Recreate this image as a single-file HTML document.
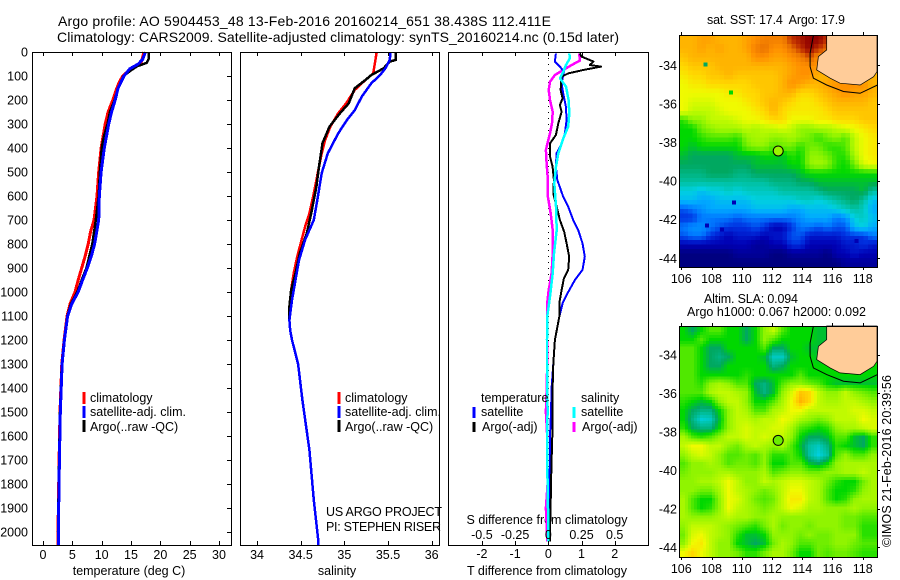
<!DOCTYPE html>
<html>
<head>
<meta charset="utf-8">
<title>Argo profile</title>
<style>
html,body{margin:0;padding:0;background:#fff;}
svg{display:block;font-family:"Liberation Sans",sans-serif;font-size:12.5px;fill:#000;}
.c{text-anchor:middle;}
.e{text-anchor:end;}
</style>
</head>
<body>
<svg id="chart" width="900" height="580" viewBox="0 0 900 580" xmlns="http://www.w3.org/2000/svg">
<rect x="0" y="0" width="900" height="580" fill="#fff"/>
<text x="58" y="26" font-size="14" textLength="493">Argo profile: AO 5904453_48 13-Feb-2016 20160214_651 38.438S 112.411E</text>
<text x="57" y="42" font-size="14" textLength="562">Climatology: CARS2009. Satellite-adjusted climatology: synTS_20160214.nc (0.15d later)</text>

<text class="c" x="129" y="575">temperature (deg C)</text>
<text class="c" x="337" y="575">salinity</text>
<text class="c" x="547" y="575">T difference from climatology</text>
<text class="c" x="547" y="524">S difference from climatology</text>

<g id="plots"></g>
<g id="maps"></g>

<g>
<line x1="84" x2="84" y1="392" y2="404" stroke="#f00" stroke-width="3"/>
<text x="90" y="402">climatology</text>
<line x1="84" x2="84" y1="406" y2="418" stroke="#00f" stroke-width="3"/>
<text x="90" y="416" textLength="96">satellite-adj. clim.</text>
<line x1="84" x2="84" y1="420" y2="432" stroke="#000" stroke-width="3"/>
<text x="90" y="431">Argo(..raw -QC)</text>
</g>
<g>
<line x1="339" x2="339" y1="392" y2="404" stroke="#f00" stroke-width="3"/>
<text x="345" y="402">climatology</text>
<line x1="339" x2="339" y1="406" y2="418" stroke="#00f" stroke-width="3"/>
<text x="345" y="416" textLength="96">satellite-adj. clim.</text>
<line x1="339" x2="339" y1="420" y2="432" stroke="#000" stroke-width="3"/>
<text x="345" y="431">Argo(..raw -QC)</text>
<text x="326" y="516" textLength="116">US ARGO PROJECT</text>
<text x="326" y="531" textLength="115">PI: STEPHEN RISER</text>
</g>
<g>
<text x="481" y="402">temperature</text>
<line x1="474" x2="474" y1="407" y2="418" stroke="#00f" stroke-width="3"/>
<text x="481" y="416">satellite</text>
<line x1="474" x2="474" y1="422" y2="432" stroke="#000" stroke-width="3"/>
<text x="482" y="431">Argo(-adj)</text>
<text x="581" y="402">salinity</text>
<line x1="574" x2="574" y1="407" y2="418" stroke="#0ff" stroke-width="3"/>
<text x="581" y="416">satellite</text>
<line x1="574" x2="574" y1="422" y2="432" stroke="#f0f" stroke-width="3"/>
<text x="582" y="431">Argo(-adj)</text>
</g>

<text x="707" y="24" textLength="138" xml:space="preserve">sat. SST: 17.4  Argo: 17.9</text>
<text x="704" y="303" textLength="94">Altim. SLA: 0.094</text>
<text x="687" y="316" textLength="179">Argo h1000: 0.067 h2000: 0.092</text>
<text transform="translate(891,547) rotate(-90)" textLength="172">©IMOS 21-Feb-2016 20:39:56</text>
</svg>

<script>
// ---- axis tick data ----
const depthTicks = [0,100,200,300,400,500,600,700,800,900,1000,1100,1200,1300,1400,1500,1600,1700,1800,1900,2000];
const tempTicks = [0,5,10,15,20,25,30];
const salTicks = [34,34.5,35,35.5,36];
const salTickLabels = ['34','34.5','35','35.5','36'];
const tDiffTicks = [-2,-1,0,1,2];
const sDiffTicks = [-0.5,-0.25,0,0.25,0.5];
const sDiffTickLabels = ['-0.5','-0.25','0','0.25','0.5'];
const lonTicks = [106,108,110,112,114,116,118];
const latTicks = [-34,-36,-38,-40,-42,-44];

// ---- temperature profiles ----
const climTempDepth = [0,40,60,80,100,125,150,200,250,300,400,500,600,700,750,800,850,900,950,1000,1050,1100,1200,1300,1500,1700,2000,2055];
const climTempValue = [17.2,16.8,15.7,14.5,13.6,13,12.6,11.9,11.1,10.6,9.9,9.5,9.2,8.7,8.1,7.7,7.2,6.6,6,5.45,4.6,4.1,3.6,3.2,2.9,2.75,2.55,2.55];
const satTempDepth = [0,30,50,70,100,150,200,250,300,400,500,600,700,750,800,850,900,950,1000,1050,1100,1200,1300,1500,1700,2000,2055];
const satTempValue = [17.45,17,16.25,14.8,13.8,12.8,12.3,11.7,11.2,10.45,9.9,9.6,9.5,9.15,8.8,8.25,7.55,6.75,6,4.9,4.2,3.65,3.25,2.95,2.8,2.6,2.6];
const argoTempDepth = [0,30,45,60,80,100,150,200,250,300,350,400,500,600,700,800,900,950,1000,1050,1100,1200,1300,1500,1700,2000,2055];
const argoTempValue = [18,18,17.7,16,14.8,13.7,12.8,12.2,11.4,11,10.4,10,9.7,9.5,9,8.4,7.4,6.6,5.85,4.75,4.15,3.6,3.2,2.9,2.75,2.55,2.55];

// ---- salinity profiles ----
const climSalDepth = [0,47,89,117,158,214,255,311,367,422,478,589,672,728,783,853,922,992,1061,1117,1160,1200,1300,1450,1658,1867,2033,2055];
const climSalValue = [35.37,35.35,35.33,35.24,35.12,35.02,34.93,34.84,34.78,34.74,34.71,34.65,34.6,34.55,34.51,34.46,34.42,34.39,34.37,34.37,34.38,34.4,34.47,34.52,34.6,34.65,34.7,34.7];
const satSalDepth = [0,33,68,96,130,186,242,283,339,422,505,617,700,783,867,950,1033,1117,1160,1200,1300,1450,1658,1867,2033,2055];
const satSalValue = [35.53,35.52,35.47,35.41,35.31,35.2,35.12,35.03,34.93,34.81,34.74,34.69,34.65,34.55,34.48,34.44,34.4,34.37,34.38,34.4,34.47,34.52,34.6,34.65,34.7,34.7];
const argoSalDepth = [0,33,40,68,96,117,151,214,255,311,380,478,561,672,755,839,922,992,1061,1117,1160,1200,1300,1450,1658,1867,2033,2055];
const argoSalValue = [35.59,35.59,35.52,35.45,35.31,35.24,35.12,35.05,34.95,34.83,34.75,34.71,34.68,34.62,34.57,34.49,34.44,34.39,34.37,34.37,34.38,34.4,34.47,34.52,34.6,34.65,34.7,34.7];

// ---- difference profiles (T in deg C, S in salinity units) ----
const tSatDepth = [6,40,61,82,131,172,228,283,339,381,422,478,533,603,644,700,742,797,853,908,950,1012,1047,1103,1200,1300,1400,1500,1600,1700,1800,1900,2000,2040];
const tSatValue = [.23,.2,.35,.47,.4,.45,.53,.55,.5,.4,.25,.23,.27,.45,.6,.75,.9,1.03,1.1,1.03,.8,.55,.43,.33,.2,.15,.1,.08,.05,.05,.03,.02,.02,.02];
const tArgoDepth = [6,19,40,54,61,75,89,103,158,193,221,249,297,346,381,436,478,533,589,644,700,749,797,853,908,943,992,1047,1103,1200,1300,1400,1500,1600,1700,1800,1900,2000,2040];
const tArgoValue = [.95,1,1.36,1.25,1.59,1.05,.6,.4,.37,.43,.35,.4,.3,.23,.05,.05,.13,.17,.15,.25,.35,.48,.55,.63,.6,.47,.4,.33,.33,.2,.15,.13,.13,.12,.1,.08,.07,.05,.05];
const sSatDepth = [6,26,54,82,110,144,200,256,311,360,422,478,547,644,742,839,922,1019,1103,1200,1300,1400,1500,1600,1700,1800,1900,2000,2040];
const sSatValue = [.158,.163,.133,.113,.088,.133,.153,.158,.15,.113,.075,.058,.045,.058,.063,.043,.033,.013,-.008,-.01,-.01,-.008,-.005,-.01,-.008,-.005,-.002,0,0];
const sArgoDepth = [6,36,54,75,96,124,158,200,249,297,339,367,408,464,533,603,672,742,839,922,992,1047,1103,1200,1300,1400,1500,1600,1700,1800,1900,2000,2040];
const sArgoValue = [.233,.238,.176,.113,.05,.013,.003,.013,.033,.028,.013,0,-.018,-.013,-.003,-.003,.018,.033,.033,.025,.003,-.008,-.008,-.01,-.008,-.012,-.018,-.008,-.008,-.005,-.018,-.01,-.008];

// ---- SST map cells (colour-scale value), north to south ----
const sstGrid = [
[14,14,14.5,14.5,14,14,14,14.5,15,15.5,15.5,15.5,17,17.5,18,18,17,15,15,15,15,15],
[14,14,14.5,14,14.5,14,14,14.5,15.5,16,15,15,16,17,18,17,16,15,15,15,15,15],
[13.5,14,14,14,14,14,14,14,15,15,14.5,14.5,15,15.5,16.5,15,15,15,15,15,15,15],
[13,13.5,13.5,13.5,14,14,14,14,14,14,14,14,14.5,15,15,15,14,14,14,14,14,14],
[12.5,13,13,13.5,13.5,14,13.5,13.5,13.5,13.5,13.5,14,14.5,15,15,14,14,14,14,14,14,14],
[12,12.5,12.5,13,13,13,13,13,13.5,13.5,13.5,14,15,14.5,14,14,14.5,15,15,15,15,14],
[12,12,12,12,12,12.5,12.5,13,13,13.5,13.5,14,14,13,13,13.5,14,14.5,15,14.5,14.5,14],
[12,11.5,11.5,11.5,12,12,12,12.5,13,13.5,14,13.5,13,12.5,12.5,13,13.5,14,14,14,14,13.5],
[12,11,11,11,11.5,12,12,12,12.5,13,14,13,12.5,12.5,12.5,12.5,13,13.5,13.5,13.5,13.5,13.5],
[8.5,10,10,11,11,11,11.5,12,12,12.5,13,13,12,12,12,12.5,12.5,13,13,13,13.5,13.5],
[8,8,9.5,10,10.5,10.5,10.5,11,10.5,11,11,11.5,11,10,10,10.5,10.5,11,11.5,12,12.5,13],
[8,8,8.5,9,9,9,8.5,10,10.5,10.5,10,10,10.5,10,9.5,8.5,9.5,10,9,11,12,12.5],
[8,7.5,8,8,8,8,8,9.5,10,10,9,9.5,9.5,8.5,9.5,9.5,8.5,8.5,9,11,12,12.5],
[7.5,7,7,7,7,7,7.5,7.5,7.5,8,8,7.5,8.5,8,10,10,9.5,8.5,8.5,10.5,12,12.5],
[7,7,7,7,7,7,7,7,7.5,7.5,7.5,7.5,8,8,10,10.5,10,8.5,8,9.5,11.5,12],
[6.5,6.5,6.5,7,7,7,6.5,6.5,7,7,7,7,7,7.5,8,8,8,8,8,8,8,8],
[6,6,6,6,6,6,6,6,6,6,6.5,6.5,6.5,7,7,7.5,7.5,7.5,7.5,7.5,7.5,7.5],
[5,5,4.5,5,5,5.5,5,5.5,5.5,5.5,5.5,6,6,6,6,6.5,7,7,7,7,7.5,6],
[4.5,4.5,4,4,4.5,4.5,4.5,4.5,5,5,5,5,5,5.5,5.5,5,5.5,6,6.5,7,6,4.5],
[2.5,3,3.5,4,4,4,4,4,4.5,4.5,4.5,4.5,4,4,4.5,4.5,4.5,5,5.5,6,5.5,4],
[2,2,3,3,3,3,2.5,3,3,3,3,3,3,3.5,4,4,4,3,3.5,5,5.5,4.5],
[3,3.5,3.5,3,2.5,2,2,2,2.5,2,1,1,2,3,3,2.5,3,2.5,2.5,4.5,5,4],
[2.5,3,3,2,1.5,1,1.5,1.5,1.5,1,1.5,1.5,2.5,2.5,1.5,1.5,1.5,1.5,2,2,2,3],
[1,1,1,1,1,1,1,1,.5,.5,1,1,2,2,1,1,1,1,1.5,1.5,2,1.5],
[0,0,0,0,0,0,.5,.5,.5,.5,0,0,.5,.5,.5,.5,0,1,1,1.5,1,1],
[0,0,0,0,0,0,0,0,0,0,0,0,0,0,0,0,0,0,.5,.5,.5,.5]
];
// isolated SST pixels
const sstSpotLon = [107.6,109.3,109.5,107.7,108.7,117.6];
const sstSpotLat = [-33.95,-35.4,-41.1,-42.3,-42.5,-43.1];
const sstSpotValue = [7,8,1,1,1,1];

// ---- SLA map cells (colour-scale value), north to south ----
const slaGrid = [
[8,7,8,9,9,8,8,7,8,10,11,9,8,8,8,7.5,7.5,8,8,8,8,8],
[8,8,9,8,8,8,8,7,8,10,9,8,8,8,8,7.5,7.5,8,8,8,8,8],
[9,9,8,7,7,8,8,8,8,9,7,7,8,8,7.5,7.5,7.5,8,8,8,8,8],
[9,9,8,7,6.5,7,8,8,8,7.5,5.5,5.5,7.5,8,8,7.5,7.5,8,8,8,8,8],
[9,9,8,7,7,8,8,8,8,8,6.5,7,8,8,8,8,8,8,8,8,8,8],
[9,9,8,8,8,8,8,8.5,8,8,8,8,8,9,8,8,8,8,8,8,8,8],
[9,9,8.5,10,10.5,10,9,9,7,6.5,7.5,9,10,10,9.5,9,8,7.5,7.5,7.5,7.5,7.5],
[9,9,9,10.5,11,11,10.5,10,7.5,6.5,7.5,10,11.5,13.5,13,11,10,10,11,10,9.5,9],
[8.5,8,7.5,8,10,11,11,10,8,8,9,10.5,12,14,13,11,10.5,10.5,11,11,10.5,10],
[8,7,6.5,6.5,8,10,11,10.5,9,9,10.5,11,12,12,11,11,11,11,11,11.5,11.5,11],
[8,6.5,5.2,5.5,7.5,10,11,11,10.5,11,11,12,11.5,10.5,10,9.5,10,11,11,11,12,11.5],
[8.5,7,6.5,6.5,8,10,11,11.5,11,11,11.5,11.5,10.5,9,8.5,8,8.5,10,10.5,10.5,11,11.5],
[10.5,9,8.5,9,10,11,11,11.5,11,11.5,11,11,10,8,7,7,7.5,9,9,7.5,7,8.5],
[11,12,12,11,11,10,9.5,10.5,11,10.5,10,10.5,9,7.5,6,5.5,6.5,8.5,8,7.5,7,8.5],
[10,11,11.5,11,10,9,9,9.5,9,10,8.5,8.5,9,8,6,5,6,9,10,9,9,10],
[9,10,10,10.5,10,9,9.5,9.5,9,10,8,8,9,9,7.5,7,8,10,10.5,10.5,10.5,10.5],
[9.5,10,10,10,10.5,10.5,10,10,10,10.5,9,9.5,10,10,9.5,9.5,10,10,10.5,10.5,11,10.5],
[10,10,10.5,10.5,11,12,11,10,10,11,10.5,11,11.5,11.5,11,10.5,9.5,8.5,8,8,9.5,10.5],
[10,10,9.5,9.5,10.5,12,11,10.5,10,9.5,10,11,12,12,11,10.5,9,8,8,8.5,10,10.5],
[10.5,9,8,8,10,12,11.5,10.5,9.5,9,9.5,11,12.5,12.5,11,10.5,9,8,8.5,10,10.5,10.5],
[10.5,9,8,8.5,10,12,11,10.5,10,9.5,10,11,12,11.5,10.5,10.5,10,10,10,10.5,10,10],
[10.5,10,10,10,10.5,11,10.5,10.5,10,10,10.5,10,10,10,10,10,10,10,9.5,9.5,9,9],
[10,11,11,11,10.5,10,9.5,9,8.5,9.5,10.5,9.5,10,10,9.5,10,10,10,9.5,9.5,8.5,8.5],
[9.5,11.5,12,11,10.5,10,8.5,7.5,7.5,8,10,10,10,9.5,10,9.5,9.5,10,10,10,8.5,8.5],
[10,12,12.5,11,10,10,8,7.5,7,7.5,9.5,10.5,10,9,9,9.5,9.5,10,10,9.5,9,9],
[12,13,12,11,10,10,9.5,8.5,8.5,9.5,10.5,10.5,9.5,8,8,9.5,9,9.5,9.5,9,8.5,8.5]
];

// ---- geography ----
const landLon = [115.62,115.62,115.07,114.96,115.85,116.5,117.83,118.72,118.98,118.98];
const landLat = [-32.45,-33.2,-33.55,-34.24,-34.67,-34.93,-35.02,-34.59,-34.33,-32.45];
const isobathLon = [114.74,114.52,114.52,114.74,115.62,116.73,117.83,118.98];
const isobathLat = [-32.45,-33.38,-34.07,-34.67,-35.02,-35.36,-35.45,-35.02];
const floatLon = [112.41];
const floatLat = [-38.44];
const floatSst = [10.2];
const floatSla = [9.4];

const colorStops = ['#000080','#0000b4','#0030e0','#0078ff','#00aaff','#00d0e0','#00c0a0','#00a860','#00d800','#50e800','#90f400','#c0fa00','#f0fa00','#ffd800','#ffb400','#ff9000','#e87000','#c03000','#900000'];

const NS = 'http://www.w3.org/2000/svg';
const plots = document.getElementById('plots');
const maps = document.getElementById('maps');

function make(parent, tag, attrs, txt) {
  const el = document.createElementNS(NS, tag);
  for (const k in attrs) el.setAttribute(k, attrs[k]);
  if (txt !== undefined) el.textContent = txt;
  parent.appendChild(el);
  return el;
}
function colorOf(v) {
  const t = Math.max(0, Math.min(colorStops.length - 1, v));
  const i = Math.min(colorStops.length - 2, Math.floor(t));
  const f = t - i;
  const a = colorStops[i], b = colorStops[i + 1];
  const ch = p => Math.round(parseInt(a.substr(p, 2), 16) * (1 - f) + parseInt(b.substr(p, 2), 16) * f);
  return 'rgb(' + ch(1) + ',' + ch(3) + ',' + ch(5) + ')';
}
function linear(d0, d1, r0, r1) {
  return v => r0 + (v - d0) * (r1 - r0) / (d1 - d0);
}
function sampleGrid(grid, fx, fy) {
  const rows = grid.length, cols = grid[0].length;
  const gx = Math.max(0, Math.min(cols - 1, fx * cols - 0.5));
  const gy = Math.max(0, Math.min(rows - 1, fy * rows - 0.5));
  const i = Math.min(cols - 2, Math.floor(gx)), j = Math.min(rows - 2, Math.floor(gy));
  const u = gx - i, v = gy - j;
  return grid[j][i] * (1 - u) * (1 - v) + grid[j][i + 1] * u * (1 - v) + grid[j + 1][i] * (1 - u) * v + grid[j + 1][i + 1] * u * v;
}

const plotTop = 52, plotBottom = 545;
const depthY = linear(0, 1000, 52, 292);
const tempX = linear(0, 30, 43, 219);
const salX = linear(34.5, 35.5, 300.7, 388);
const tDiffX = linear(0, 1, 548.3, 581.5);
const sDiffX = linear(0, 0.25, 548.3, 581.5);

function drawSeries(name, color, width, depths, values, xf) {
  const pts = depths.map((d, i) => xf(values[i]).toFixed(1) + ',' + depthY(d).toFixed(1)).join(' ');
  const el = make(plots, 'polyline', {points: pts, fill: 'none', stroke: color, 'stroke-width': width, 'shape-rendering': 'crispEdges', 'stroke-linejoin': 'round'});
  
  
}
function drawFrame(name, x0, x1) {
  const el = make(plots, 'rect', {x: x0 + 0.5, y: plotTop + 0.5, width: x1 - x0, height: plotBottom - plotTop, fill: 'none', stroke: '#000', 'stroke-width': 1, 'shape-rendering': 'crispEdges'});
  
  
}
function drawXTicks(ticks, labels, xf, labelY) {
  ticks.forEach((t, i) => {
    const x = Math.round(xf(t)) + 0.5;
    const a = make(plots, 'line', {x1: x, x2: x, y1: plotTop, y2: plotTop + 4, stroke: '#000', 'shape-rendering': 'crispEdges'});
    
    
    const b = make(plots, 'line', {x1: x, x2: x, y1: plotBottom - 4, y2: plotBottom, stroke: '#000', 'shape-rendering': 'crispEdges'});
    
    
    const l = make(plots, 'text', {x: xf(t), y: labelY, 'text-anchor': 'middle'}, labels[i]);
    
    
  });
}

// temperature panel
drawSeries('temperature-climatology-line', '#f00', 3, climTempDepth, climTempValue, tempX);
drawSeries('temperature-argo-line', '#000', 2.5, argoTempDepth, argoTempValue, tempX);
drawSeries('temperature-satellite-line', '#00f', 3, satTempDepth, satTempValue, tempX);
drawFrame('temperature-panel-frame', 32, 231);
drawXTicks(tempTicks, tempTicks.map(String), tempX, 559);
depthTicks.forEach(d => {
  const y = Math.round(depthY(d)) + 0.5;
  const t = make(plots, 'line', {x1: 227, x2: 231, y1: y, y2: y, stroke: '#000', 'shape-rendering': 'crispEdges'});
  
  
  const l = make(plots, 'text', {x: 28, y: depthY(d) + 4.5, 'text-anchor': 'end'}, String(d));
  
  
});

// salinity panel
drawSeries('salinity-climatology-line', '#f00', 2.5, climSalDepth, climSalValue, salX);
drawSeries('salinity-argo-line', '#000', 2.5, argoSalDepth, argoSalValue, salX);
drawSeries('salinity-satellite-line', '#00f', 2.5, satSalDepth, satSalValue, salX);
drawFrame('salinity-panel-frame', 240, 439);
drawXTicks(salTicks, salTickLabels, salX, 559);

// difference panel
const zero = make(plots, 'line', {x1: 548.5, x2: 548.5, y1: plotTop, y2: plotBottom, stroke: '#000', 'stroke-dasharray': '1 5', 'shape-rendering': 'crispEdges'});


drawSeries('salinity-argo-difference-line', '#f0f', 2.5, sArgoDepth, sArgoValue, sDiffX);
drawSeries('temperature-satellite-difference-line', '#00f', 2, tSatDepth, tSatValue, tDiffX);
drawSeries('temperature-argo-difference-line', '#000', 2, tArgoDepth, tArgoValue, tDiffX);
drawSeries('salinity-satellite-difference-line', '#0ff', 2.5, sSatDepth, sSatValue, sDiffX);
drawFrame('difference-panel-frame', 448, 648);
drawXTicks(tDiffTicks, tDiffTicks.map(String), tDiffX, 558);
sDiffTicks.forEach((t, i) => {
  const l = make(plots, 'text', {x: sDiffX(t), y: 539, 'text-anchor': 'middle'}, sDiffTickLabels[i]);
  
  
});

// maps
function drawMap(prefix, grid, top, bottom, lat34, lat44, labelY, spots, markerValue, sub) {
  const left = 679, right = 877;
  const lonX = linear(106, 118, 681.3, 862.7);
  const latY = linear(-34, -44, lat34, lat44);
  const g = make(maps, 'g', {});
  
  
  const rows = grid.length * sub, cols = grid[0].length * sub;
  const cw = (right - left) / cols, ch = (bottom - top) / rows;
  for (let j = 0; j < rows; j++) {
    for (let i = 0; i < cols; i++) {
      const v = sampleGrid(grid, (i + 0.5) / cols, (j + 0.5) / rows);
      const c = make(g, 'rect', {x: (left + i * cw).toFixed(2), y: (top + j * ch).toFixed(2), width: (cw + 0.6).toFixed(2), height: (ch + 0.6).toFixed(2), fill: colorOf(v), 'shape-rendering': 'crispEdges'});
      
      
    }
  }
  if (spots) {
    spots.lon.forEach((lon, i) => {
      const s = make(g, 'rect', {x: lonX(lon) - 2, y: latY(spots.lat[i]) - 2, width: 4, height: 4, fill: colorOf(spots.val[i]), 'shape-rendering': 'crispEdges'});
      
      
    });
  }
  const iso = make(g, 'polyline', {points: isobathLon.map((l, i) => lonX(l).toFixed(1) + ',' + Math.max(top, latY(isobathLat[i])).toFixed(1)).join(' '), fill: 'none', stroke: '#000', 'stroke-width': 1});
  
  
  const land = make(g, 'polygon', {points: landLon.map((l, i) => Math.min(right, lonX(l)).toFixed(1) + ',' + Math.max(top, latY(landLat[i])).toFixed(1)).join(' '), fill: '#ffcc99', stroke: '#000', 'stroke-width': 0.7});
  
  
  const marker = make(g, 'circle', {cx: lonX(floatLon[0]), cy: latY(floatLat[0]), r: 5, fill: colorOf(markerValue), stroke: '#000', 'stroke-width': 1});
  
  
  const frame = make(g, 'rect', {x: left + 0.5, y: top + 0.5, width: right - left, height: bottom - top, fill: 'none', stroke: '#000', 'shape-rendering': 'crispEdges'});
  
  
  lonTicks.forEach(lon => {
    const x = Math.round(lonX(lon)) + 0.5;
    const a = make(g, 'line', {x1: x, x2: x, y1: top - 3, y2: top, stroke: '#000', 'shape-rendering': 'crispEdges'});
    
    
    const b = make(g, 'line', {x1: x, x2: x, y1: bottom, y2: bottom + 3, stroke: '#000', 'shape-rendering': 'crispEdges'});
    
    
    const l = make(g, 'text', {x: lonX(lon), y: labelY, 'text-anchor': 'middle'}, String(lon));
    
    
  });
  latTicks.forEach(lat => {
    const y = Math.round(latY(lat)) + 0.5;
    const a = make(g, 'line', {x1: right, x2: right + 3, y1: y, y2: y, stroke: '#000', 'shape-rendering': 'crispEdges'});
    
    
    const l = make(g, 'text', {x: 677, y: latY(lat) + 4.5, 'text-anchor': 'end'}, String(lat));
    
    
  });
}
drawMap('sst', sstGrid, 35, 267, 65.3, 258.3, 283, {lon: sstSpotLon, lat: sstSpotLat, val: sstSpotValue}, floatSst[0], 2);
drawMap('sla', slaGrid, 326, 557, 355, 547.3, 573, null, floatSla[0], 3);
</script>
</body>
</html>
